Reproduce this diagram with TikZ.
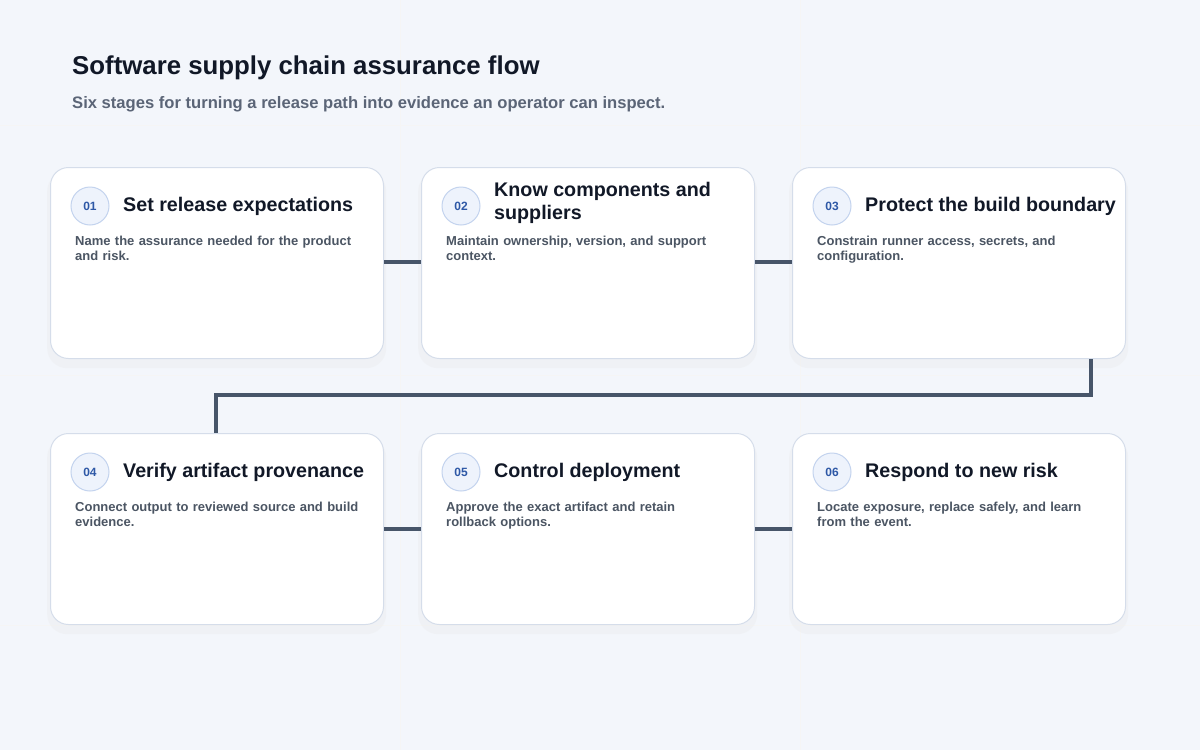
\documentclass[tikz,border=0pt]{standalone}
\usepackage{fontspec}
\setmainfont{Liberation Sans}
\newcommand\nohy{\hyphenpenalty=10000 \exhyphenpenalty=10000 }
\begin{document}
\definecolor{bg}{HTML}{F3F6FB}
\definecolor{cardline}{HTML}{D5DDEA}
\definecolor{conn}{HTML}{475569}
\definecolor{numfill}{HTML}{EEF3FC}
\definecolor{numline}{HTML}{C3D3EE}
\definecolor{numtxt}{HTML}{2E58A6}
\definecolor{ttl}{HTML}{111827}
\definecolor{desc}{HTML}{4B5563}
\definecolor{sub}{HTML}{5B6577}
\begin{tikzpicture}[x=1pt,y=-1pt,
  card/.style={draw=cardline,line width=1pt,fill=white,rounded corners=18pt,minimum width=333pt,minimum height=191pt,anchor=north west,inner sep=0pt},
  shadow/.style={fill=black!9,rounded corners=20pt,opacity=0.3,minimum width=339pt,minimum height=197pt,anchor=north west,inner sep=0pt},
  num/.style={circle,draw=numline,fill=numfill,line width=1pt,minimum size=38pt,inner sep=0pt,font=\fontsize{12}{12}\selectfont\bfseries,text=numtxt},
  ttl/.style={anchor=west,font=\fontsize{19.7}{23}\selectfont\bfseries,text=ttl,align=left,inner sep=0pt},
  dsc/.style={anchor=north west,font=\fontsize{13}{15}\selectfont\bfseries,text=desc,align=left,inner sep=0pt,text width=284pt},
  conn/.style={draw=conn,line width=3.5pt}]
\useasboundingbox (0,0) rectangle (1200,750);
\fill[bg] (0,0) rectangle (1200,750);
\draw[black!4,line width=0.8pt] (0,125)--(1200,125) (0,375)--(1200,375) (0,625)--(1200,625);
\draw[black!4,line width=0.8pt] (400,0)--(400,750) (800,0)--(800,750);
\node[anchor=west,inner sep=0pt,font=\fontsize{25.8}{30}\selectfont\bfseries,text=ttl] (title) at (72,68) {Software supply chain assurance flow};
\node[anchor=west,inner sep=0pt,font=\fontsize{16.6}{19}\selectfont\bfseries,text=sub] (subtitle) at (72,104) {Six stages for turning a release path into evidence an operator can inspect.};
\foreach \x/\y in {47/171,418/171,789/171,47/437,418/437,789/437}
  \node[shadow] at (\x,\y) {};
\coordinate (w1) at (1091,395); \coordinate (w2) at (216,395);
\node[card] (c1) at (50,167) {};
\node[card] (c2) at (421,167) {};
\node[card] (c3) at (792,167) {};
\node[card] (c4) at (50,433) {};
\node[card] (c5) at (421,433) {};
\node[card] (c6) at (792,433) {};
\draw[conn] (c1.east|-0,262) -- (c2.west|-0,262);
\draw[conn] (c2.east|-0,262) -- (c3.west|-0,262);
\draw[conn] (c4.east|-0,529) -- (c5.west|-0,529);
\draw[conn] (c5.east|-0,529) -- (c6.west|-0,529);
\draw[conn] (c3.south-|w1) -- (w1) -- (w2) -- (c4.north-|w2);
\node[num] (n1) at (90,206) {01};
\node[ttl] (t1) at (123,206) {Set release expectations};
\node[dsc] (d1) at (75,236) {\nohy Name the assurance needed for the product and risk.};
\node[num] (n2) at (461,206) {02};
\node[ttl] (t2) at (494,203) {Know components and\\suppliers};
\node[dsc] (d2) at (446,236) {Maintain ownership, version, and support\\context.};
\node[num] (n3) at (832,206) {03};
\node[ttl] (t3) at (865,206) {Protect the build boundary};
\node[dsc] (d3) at (817,236) {Constrain runner access, secrets, and\\configuration.};
\node[num] (n4) at (90,472) {04};
\node[ttl] (t4) at (123,472) {Verify artifact provenance};
\node[dsc] (d4) at (75,502) {Connect output to reviewed source and build\\evidence.};
\node[num] (n5) at (461,472) {05};
\node[ttl] (t5) at (494,472) {Control deployment};
\node[dsc] (d5) at (446,502) {Approve the exact artifact and retain\\rollback options.};
\node[num] (n6) at (832,472) {06};
\node[ttl] (t6) at (865,472) {Respond to new risk};
\node[dsc] (d6) at (817,502) {Locate exposure, replace safely, and learn\\from the event.};
\end{tikzpicture}
\end{document}
